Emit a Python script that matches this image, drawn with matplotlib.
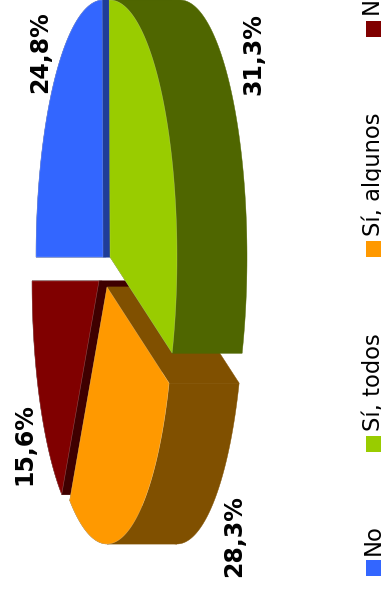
import numpy as np
import matplotlib
matplotlib.use('Agg')
import matplotlib.pyplot as plt
from matplotlib.patches import Polygon, Rectangle

# chart values
categories = ['No', 'Sí, todos', 'Sí, algunos', 'No sabe']
percent = [24.8, 31.3, 28.3, 15.6]

# colours of the top faces and the side walls
TOP_COLORS = ['#3366FF', '#99CC00', '#FF9900', '#800000']
WALL_COLORS = ['#1F3D99', '#4F6600', '#805000', '#3F0000']

# pie layout, in picture pixels (the whole chart is turned by 90 degrees)
SEMI_X = 67
SEMI_Y = 257
DEPTH = 70
START_ANGLE = -90
EXPLODED_CENTRES = [(103, 257), (110, 257), (107, 287), (99, 281)]
DRAW_ORDER = [0, 3, 2, 1]
LABEL_POS = [(40, 52), (253, 54), (234, 536), (24, 444)]
LEGEND_Y = [576, 452, 257, 37]
LEGEND_TEXT_X = 380


def arc_points(centre, a0, a1, shift=0):
  # angle runs clockwise from the top of the picture
  t = np.radians(np.linspace(a0, a1, 80))
  x = centre[0] + shift + SEMI_X * np.sin(t)
  y = centre[1] - SEMI_Y * np.cos(t)
  return np.column_stack([x, y])


def draw_rim(ax, centre, a0, a1, wall):
  # the rim doubles back on itself at the bottom of the pie, so split it there
  if a0 < 180 < a1:
    draw_rim(ax, centre, a0, 180, wall)
    draw_rim(ax, centre, 180, a1, wall)
    return
  band = np.vstack([arc_points(centre, a0, a1), arc_points(centre, a0, a1, DEPTH)[::-1]])
  ax.add_patch(Polygon(band, closed=True, fc=wall, ec=wall, lw=0.3))


def draw_slice(ax, centre, a0, a1, top, wall):
  apex = np.array(centre, dtype=float)
  arc = arc_points(centre, a0, a1)
  step = np.array([DEPTH, 0])

  # radial walls first, then the rim, then the top face
  for p in (arc[0], arc[-1]):
    quad = [apex, p, p + step, apex + step]
    ax.add_patch(Polygon(quad, closed=True, fc=wall, ec=wall, lw=0.3))
  draw_rim(ax, centre, a0, a1, wall)
  face = np.vstack([apex, arc])
  ax.add_patch(Polygon(face, closed=True, fc=top, ec=(1, 1, 1, 0.3), lw=0.4))


fig = plt.figure(figsize=(3.81, 5.91), dpi=100)
ax = fig.add_axes([0, 0, 1, 1])
ax.set_xlim(0, 381)
ax.set_ylim(591, 0)
ax.axis('off')

edges = START_ANGLE + np.concatenate([[0], np.cumsum(percent)]) * 360 / sum(percent)
for i in DRAW_ORDER:
  draw_slice(ax, EXPLODED_CENTRES[i], edges[i], edges[i + 1], TOP_COLORS[i], WALL_COLORS[i])

for i, value in enumerate(percent):
  text = f'{value:.1f}%'.replace('.', ',')
  ax.text(LABEL_POS[i][0], LABEL_POS[i][1], text, rotation=90, fontsize=17, fontweight='bold',
          family='DejaVu Sans', ha='center', va='center', color='black')

# legend runs along the right edge and is cut by the picture border
for i, name in enumerate(categories):
  ax.add_patch(Rectangle((366, LEGEND_Y[i] - 16), 16, 16, fc=TOP_COLORS[i], ec='none'))
  ax.text(LEGEND_TEXT_X, LEGEND_Y[i] - 21, name, rotation=90, rotation_mode='anchor', fontsize=16.3,
          family='DejaVu Sans', ha='left', va='baseline', color='black')

fig.savefig('out.png', dpi=100)
